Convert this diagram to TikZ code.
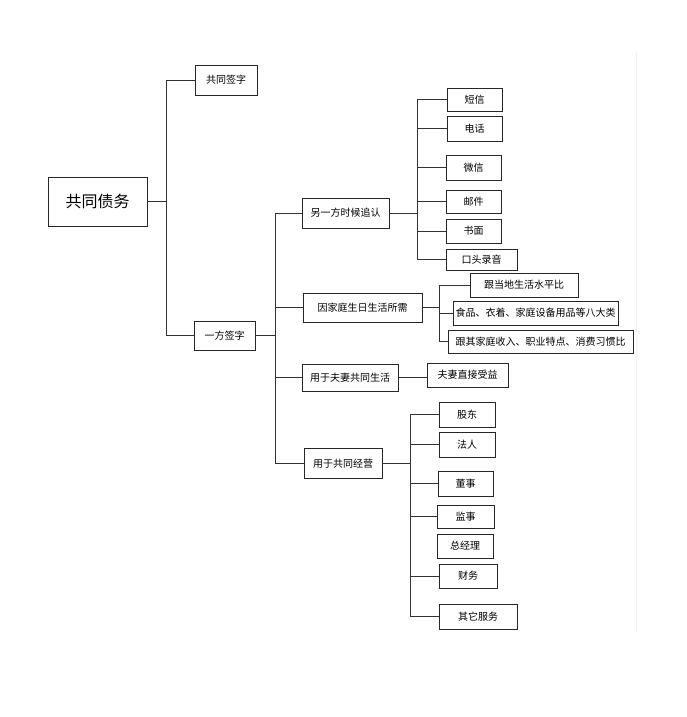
\documentclass[tikz,border=0pt]{standalone}
\usepackage{fontspec}
\setmainfont{Noto Sans CJK SC}
\usetikzlibrary{calc}
\begin{document}
\begin{tikzpicture}[x=1pt,y=-1pt,
  box/.style={draw=black!85,line width=0.8pt,inner sep=0pt,font=\fontsize{10}{12}\selectfont,text=black},
  conn/.style={draw=black!80,line width=0.8pt}]
\useasboundingbox (0,0) rectangle (687,717);
% faint frame line
\draw[black!5,line width=0.8pt] (636,52) -- (636,632);
% level 0
\node[box,minimum width=99,minimum height=49,font=\fontsize{16}{18}\selectfont] (root) at (97.5,201.5) {共同债务};
% level 1
\node[box,minimum width=62,minimum height=30] (gq) at (226,80) {共同签字};
\node[box,minimum width=61,minimum height=29] (yf) at (224.5,335.5) {一方签字};
% level 2
\node[box,minimum width=87,minimum height=30] (a1) at (345.5,213) {另一方时候追认};
\node[box,minimum width=119,minimum height=29] (a2) at (362.5,307.5) {因家庭生日生活所需};
\node[box,minimum width=96,minimum height=27] (a3) at (350,377.5) {用于夫妻共同生活};
\node[box,minimum width=78,minimum height=30] (a4) at (343,463.5) {用于共同经营};
% a1 children
\node[box,minimum width=55,minimum height=23] (b1) at (474.5,99.5) {短信};
\node[box,minimum width=55,minimum height=25] (b2) at (474.5,128.5) {电话};
\node[box,minimum width=55,minimum height=25] (b3) at (473.5,167.5) {微信};
\node[box,minimum width=55,minimum height=23] (b4) at (473.5,201.5) {邮件};
\node[box,minimum width=55,minimum height=24] (b5) at (473.5,231) {书面};
\node[box,minimum width=71,minimum height=21] (b6) at (481.5,259.5) {口头录音};
% a2 children
\node[box,minimum width=108,minimum height=24] (c1) at (524,285) {跟当地生活水平比};
\node[box,minimum width=165,minimum height=24] (c2) at (535.5,313) {食品、衣着、家庭设备用品等八大类};
\node[box,minimum width=185,minimum height=23] (c3) at (540.5,341.5) {跟其家庭收入、职业特点、消费习惯比};
% a3 child
\node[box,minimum width=81,minimum height=24] (d1) at (467.5,375) {夫妻直接受益};
% a4 children
\node[box,minimum width=56,minimum height=25] (e1) at (467,414.5) {股东};
\node[box,minimum width=56,minimum height=25] (e2) at (467,444.5) {法人};
\node[box,minimum width=55,minimum height=25] (e3) at (465.5,483.5) {董事};
\node[box,minimum width=57,minimum height=23] (e4) at (465.5,516.5) {监事};
\node[box,minimum width=56,minimum height=24] (e5) at (465,546) {总经理};
\node[box,minimum width=58,minimum height=24] (e6) at (468,576) {财务};
\node[box,minimum width=78,minimum height=25] (e7) at (478,616.5) {其它服务};
% connectors root
\coordinate (j0) at ($(root.east)+(19,0)$);
\draw[conn] (root.east) -- (j0);
\draw[conn] (gq.west) -| (j0 |- yf.west) -- (yf.west);
% connectors yf
\coordinate (j1) at ($(yf.east)+(20,0)$);
\draw[conn] (yf.east) -- (j1);
\draw[conn] (a1.west) -| (j1 |- a4.west) -- (a4.west);
\draw[conn] (j1 |- a2.west) -- (a2.west);
\draw[conn] (j1 |- a3.west) -- (a3.west);
% connectors a1
\coordinate (ja) at ($(a1.east)+(28,0)$);
\draw[conn] (a1.east) -- (ja);
\draw[conn] (b1.west) -| (ja |- b6.west) -- (b6.west);
\foreach \n in {b2,b3,b4,b5} \draw[conn] (ja |- \n.west) -- (\n.west);
% connectors a2
\coordinate (jb) at ($(a2.east)+(17,0)$);
\draw[conn] (a2.east) -- (jb);
\draw[conn] (c1.west) -| (jb |- c3.west) -- (c3.west);
\draw[conn] (jb |- c2.west) -- (c2.west);
% connector a3
\draw[conn] (a3.east) -- (d1.west |- a3.east);
% connectors a4
\coordinate (jd) at ($(a4.east)+(28,0)$);
\draw[conn] (a4.east) -- (jd);
\draw[conn] (e1.west) -| (jd |- e7.west) -- (e7.west);
\foreach \n in {e2,e3,e4,e6} \draw[conn] (jd |- \n.west) -- (\n.west);
\end{tikzpicture}
\end{document}
